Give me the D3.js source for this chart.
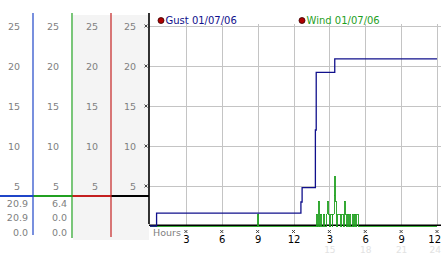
<!DOCTYPE html>
<html>
<head>
<meta charset="utf-8">
<script src="https://cdn.jsdelivr.net/npm/d3@7"></script>
<style>
  body { margin: 0; background: #fff; }
  svg { display: block; }
  text { font-family: "DejaVu Sans", Verdana, sans-serif; }
</style>
</head>
<body>
<div id="chart"></div>
<script>
// gust and wind, mph over 24 hours
let gustData = [
    [0, 0], [0.55, 1.6], [12.62, 3.0], [12.72, 4.8], [13.83, 12.0],
    [13.9, 19.2], [15.45, 20.9], [24, 20.9]
];
let windData = [
    [0, 0], [9.0, 1.6], [9.1, 0],
    [13.9, 1.6], [14.0, 0], [14.08, 3.2], [14.16, 0], [14.25, 1.6], [14.35, 0],
    [14.5, 1.6], [14.62, 0], [14.72, 1.6], [14.82, 3.2], [14.9, 1.6], [15.0, 0],
    [15.1, 1.6], [15.22, 0], [15.3, 1.6], [15.4, 3.9], [15.44, 6.4], [15.5, 3.2],
    [15.56, 1.6], [15.62, 0], [15.72, 1.6], [15.85, 1.6], [15.95, 0], [16.05, 1.6],
    [16.15, 0], [16.25, 3.2], [16.32, 1.6], [16.4, 0], [16.5, 1.6], [16.6, 0],
    [16.7, 1.6], [16.8, 0], [16.9, 1.6], [17.0, 0], [17.1, 1.6], [17.2, 0],
    [17.28, 1.6], [17.4, 0], [24, 0]
];
let yTicks = [5, 10, 15, 20, 25];
let hourTicks = [3, 6, 9, 12, 15, 18, 21, 24];
let hourLabels = ["3", "6", "9", "12", "3", "6", "9", "12"];
let hour24Labels = ["", "", "", "", "15", "18", "21", "24"];
let gustStats = ["20.9", "20.9", "0.0"];
let windStats = ["6.4", "0.0", "0.0"];
let legendNames = ["Gust 01/07/06", "Wind 01/07/06"];

let width = 442, height = 253;
let gustColor = "#10108c", windColor = "#1fa01f";

let svg = d3.select("#chart").append("svg")
    .attr("width", width).attr("height", height);

let x = d3.scaleLinear().domain([0, 24]).range([150, 437]);
let y = d3.scaleLinear().domain([0, 25]).range([226, 26]);

// left panel
let colEdges = [0, 33, 72, 111, 149];
let colColors = ["#1f45c8", "#21a021", "#c42020", "#000"];

svg.append("rect").attr("x", 73).attr("y", 15).attr("width", 76).attr("height", 225)
    .attr("fill", "#f4f4f4");

colColors.forEach((c, i) => {
    let left = colEdges[i], right = colEdges[i + 1];
    svg.selectAll(".lbl" + i)
        .data(yTicks)
        .enter().append("text")
        .attr("x", right - 13)
        .attr("y", d => y(d) + 3.5)
        .attr("text-anchor", "end")
        .attr("font-size", 9.5)
        .attr("fill", "#808080")
        .text(d => d);
    // separator segment
    svg.append("line")
        .attr("x1", left).attr("x2", right)
        .attr("y1", 196).attr("y2", 196)
        .attr("stroke", c).attr("stroke-width", 2);
});

// vertical column lines
[[33, colColors[0], 235], [72, colColors[1], 238], [111, colColors[2], 237]].forEach(d => {
    svg.append("line").attr("x1", d[0]).attr("x2", d[0]).attr("y1", 13).attr("y2", d[2])
        .attr("stroke", d[1]).attr("stroke-width", 1.2);
});

[gustStats, windStats].forEach((stats, i) => {
    svg.selectAll(".stat" + i)
        .data(stats)
        .enter().append("text")
        .attr("x", colEdges[i + 1] - 5)
        .attr("y", (d, j) => 207 + j * 14.3)
        .attr("text-anchor", "end")
        .attr("font-size", 9.5)
        .attr("fill", "#808080")
        .text(d => d);
});

// plot background + grid
svg.append("rect").attr("x", 150).attr("y", 15).attr("width", 292).attr("height", 212)
    .attr("fill", "#fff");

svg.selectAll(".hgrid")
    .data(yTicks)
    .enter().append("line")
    .attr("x1", 149).attr("x2", 441)
    .attr("y1", d => y(d) + 0.5).attr("y2", d => y(d) + 0.5)
    .attr("stroke", "#c4c4c4");

svg.selectAll(".vgrid")
    .data(hourTicks)
    .enter().append("line")
    .attr("x1", d => Math.round(x(d)) + 0.5).attr("x2", d => Math.round(x(d)) + 0.5)
    .attr("y1", 24).attr("y2", 226)
    .attr("stroke", "#c4c4c4");

// small tick glyphs
function tickMark(g, cx, cy) {
    g.append("path")
        .attr("d", `M${cx - 1.5},${cy - 1.5}L${cx + 1.5},${cy + 1.5}M${cx + 1.5},${cy - 1.5}L${cx - 1.5},${cy + 1.5}`)
        .attr("stroke", "#333").attr("stroke-width", 0.9).attr("fill", "none");
}
yTicks.forEach(d => tickMark(svg, 146, y(d)));
hourTicks.forEach(d => tickMark(svg, x(d), 231.5));

// axes lines
svg.append("line").attr("x1", 149).attr("x2", 149).attr("y1", 13).attr("y2", 224)
    .attr("stroke", "#000").attr("stroke-width", 1.6);
svg.append("line").attr("x1", 149).attr("x2", 441).attr("y1", 225.2).attr("y2", 225.2)
    .attr("stroke", "#000").attr("stroke-width", 1.6);

// series
let line = d3.line()
    .x(d => x(d[0]))
    .y(d => y(d[1]))
    .curve(d3.curveStepAfter);

svg.append("path").datum(windData)
    .attr("d", line)
    .attr("fill", "none").attr("stroke", windColor).attr("stroke-width", 0.9)
    .attr("shape-rendering", "crispEdges")
    .attr("transform", "translate(0,0.8)");

svg.append("path").datum(gustData)
    .attr("d", line)
    .attr("fill", "none").attr("stroke", gustColor).attr("stroke-width", 1.3);

// x labels
svg.append("text").attr("x", 153).attr("y", 236)
    .attr("font-size", 9.5).attr("fill", "#808080").text("Hours");

svg.selectAll(".hlbl")
    .data(hourTicks)
    .enter().append("text")
    .attr("x", (d, i) => i === hourTicks.length - 1 ? 441 : x(d) + 0.5)
    .attr("y", 243)
    .attr("text-anchor", (d, i) => i === hourTicks.length - 1 ? "end" : "middle")
    .attr("font-size", 10)
    .attr("fill", "#000")
    .text((d, i) => hourLabels[i]);

svg.selectAll(".h24lbl")
    .data(hourTicks)
    .enter().append("text")
    .attr("x", (d, i) => i === hourTicks.length - 1 ? 441 : x(d) + 0.5)
    .attr("y", 252.5)
    .attr("text-anchor", (d, i) => i === hourTicks.length - 1 ? "end" : "middle")
    .attr("font-size", 9)
    .attr("fill", "#e2e2e2")
    .text((d, i) => hour24Labels[i]);

// legend
let legendX = [161, 302];
legendNames.forEach((n, i) => {
    svg.append("circle").attr("cx", legendX[i]).attr("cy", 20.5).attr("r", 3)
        .attr("fill", "#b00000").attr("stroke", "#300").attr("stroke-width", 0.8);
    svg.append("text").attr("x", legendX[i] + 4.5).attr("y", 24)
        .attr("font-size", 10)
        .attr("fill", i === 0 ? gustColor : windColor)
        .text(n);
});
</script>
</body>
</html>
